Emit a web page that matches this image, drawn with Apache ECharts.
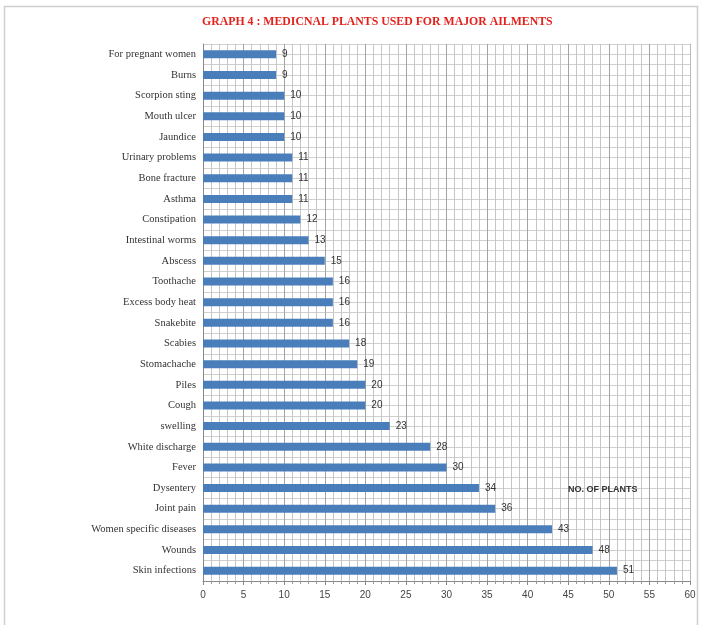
<!DOCTYPE html>
<html>
<head>
<meta charset="utf-8">
<script src="https://cdn.jsdelivr.net/npm/echarts@6/dist/echarts.min.js"></script>
<style>
  html, body { margin: 0; padding: 0; background: #fff; }
  #chart { width: 702px; height: 625px; }
</style>
</head>
<body>
<div id="chart"></div>
<script>
// Ailments, listed top to bottom
const ailments = [
  'For pregnant women', 'Burns', 'Scorpion sting', 'Mouth ulcer', 'Jaundice',
  'Urinary problems', 'Bone fracture', 'Asthma', 'Constipation', 'Intestinal worms',
  'Abscess', 'Toothache', 'Excess body heat', 'Snakebite', 'Scabies',
  'Stomachache', 'Piles', 'Cough', 'swelling', 'White discharge',
  'Fever', 'Dysentery', 'Joint pain', 'Women specific diseases', 'Wounds',
  'Skin infections'
];
// Number of plants used for each ailment
const plantCounts = [
  9, 9, 10, 10, 10,
  11, 11, 11, 12, 13,
  15, 16, 16, 16, 18,
  19, 20, 20, 23, 28,
  30, 34, 36, 43, 48,
  51
];
const titleText = 'GRAPH 4 : MEDICNAL PLANTS USED FOR MAJOR AILMENTS';
const axisNote = 'NO. OF PLANTS';

const chart = echarts.init(document.getElementById('chart'), null, { renderer: 'canvas' });

const gridBox = { left: 203, right: 12, top: 44, bottom: 44 };

chart.setOption({
  backgroundColor: '#ffffff',
  animation: false,
  title: {
    text: titleText,
    left: 197,
    top: 11,
    textStyle: {
      color: '#e3221c',
      fontFamily: 'Liberation Serif',
      fontWeight: 'bold',
      fontSize: 11.8
    }
  },
  graphic: [
    {
      type: 'rect',
      shape: { x: 4.5, y: 6.5, width: 693, height: 640 },
      style: { fill: 'none', stroke: '#cfcfcf', lineWidth: 1.5 },
      silent: true,
      z: -1
    },
    {
      type: 'text',
      left: 568,
      top: 485,
      style: {
        text: axisNote,
        fill: '#333',
        font: 'bold 9px "Liberation Sans"'
      },
      z: 10
    }
  ],
  grid: gridBox,
  xAxis: {
    type: 'value',
    min: 0,
    max: 60,
    interval: 5,
    axisLine: { show: true, lineStyle: { color: '#888', width: 1 } },
    axisTick: { show: true, length: 4, lineStyle: { color: '#888' } },
    minorTick: { show: true, splitNumber: 5, length: 3, lineStyle: { color: '#999' } },
    axisLabel: {
      color: '#444',
      fontFamily: 'Liberation Sans',
      fontSize: 10,
      margin: 9
    },
    splitLine: { show: true, lineStyle: { color: '#a4a4a4', width: 1 } },
    minorSplitLine: { show: true, lineStyle: { color: '#c6c6c6', width: 1 } }
  },
  yAxis: [
    {
      type: 'category',
      data: ailments,
      inverse: true,
      axisLine: { show: true, lineStyle: { color: '#888' } },
      axisTick: { show: false },
      axisLabel: {
        color: '#333',
        fontFamily: 'Liberation Serif',
        fontSize: 10.5,
        margin: 7
      },
      splitLine: { show: true, lineStyle: { color: '#a4a4a4', width: 1 } }
    },
    {
      // half-category rulings for the graph-paper background
      type: 'value',
      min: 0,
      max: 52,
      interval: 1,
      position: 'right',
      axisLine: { show: true, lineStyle: { color: '#bbb' } },
      axisTick: { show: false },
      axisLabel: { show: false },
      splitLine: { show: true, lineStyle: { color: '#cfcfcf', width: 1 } },
      z: 0
    }
  ],
  series: [
    {
      type: 'bar',
      yAxisIndex: 0,
      data: plantCounts,
      barWidth: 8,
      itemStyle: { color: '#4a7ebb' },
      label: {
        show: true,
        position: 'right',
        distance: 6,
        color: '#333',
        fontFamily: 'Liberation Sans',
        fontSize: 10
      },
      z: 5
    }
  ]
});
</script>
</body>
</html>
